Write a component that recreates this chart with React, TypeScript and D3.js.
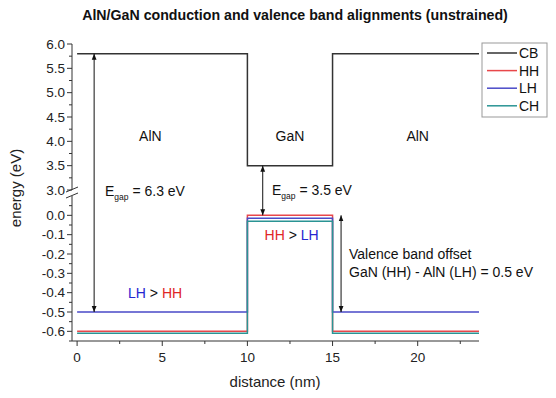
import React from 'react'
import * as d3 from 'd3'

// region boundaries along the growth direction (nm)
const boundaries = [0, 10, 15, 23.6]
const regionNames = ['AlN', 'GaN', 'AlN']
const regionLabelX = [4.3, 12.5, 20]

// band edges (eV) per region: AlN, GaN, AlN
const cbValues = [5.8, 3.5, 5.8]
const hhValues = [-0.6, 0.0, -0.6]
const lhValues = [-0.5, -0.015, -0.5]
const chValues = [-0.61, -0.03, -0.61]

const seriesNames = ['CB', 'HH', 'LH', 'CH']
const seriesColors = ['#333333', '#e8474a', '#4a4ac8', '#2a9494']

const xTicks = [0, 5, 10, 15, 20]
const xMinor = [2.5, 7.5, 12.5, 17.5, 22.5]
const yTopTicks = [3.0, 3.5, 4.0, 4.5, 5.0, 5.5, 6.0]
const yTopMinor = [3.25, 3.75, 4.25, 4.75, 5.25, 5.75]
const yBotTicks = [-0.6, -0.5, -0.4, -0.3, -0.2, -0.1, 0.0]
const yBotMinor = [-0.65, -0.55, -0.45, -0.35, -0.25, -0.15, -0.05, 0.05]

const font = '"Liberation Sans", Arial, sans-serif'

const x = d3.scaleLinear().domain([-0.3, 23.6]).range([72, 479])
const yTop = d3.scaleLinear().domain([3, 6]).range([190, 44])
const yBot = d3.scaleLinear().domain([-0.65, 0.1]).range([341, 196])

// CB lives on the upper segment, valence bands on the lower one
const stepLine = (vals: number[], y: d3.ScaleLinear<number, number>) => {
  const pts: [number, number][] = boundaries.map((b, i) => [b, vals[Math.min(i, vals.length - 1)]])
  return d3
    .line<[number, number]>()
    .x(d => x(d[0]))
    .y(d => y(d[1]))
    .curve(d3.curveStepAfter)(pts) as string
}

const fmt = (t: number) => (Math.abs(t) < 1e-9 ? 0 : t).toFixed(1)

const Egap = ({ px, py, value }: { px: number; py: number; value: string }) => (
  <text x={px} y={py} fontSize={14} fontFamily={font} fill="#111">
    E
    <tspan fontSize={8.5} dy={4}>gap</tspan>
    <tspan dy={-4}>{' = ' + value}</tspan>
  </text>
)

export default function App() {
  const paths = [
    stepLine(cbValues, yTop),
    stepLine(hhValues, yBot),
    stepLine(lhValues, yBot),
    stepLine(chValues, yBot)
  ]
  const axisColor = '#333'
  return (
    <svg width={556} height={398} style={{ position: 'absolute', left: 0, top: 0, background: '#fff' }}>
      <defs>
        <marker id="ah" viewBox="0 0 10 10" refX="10" refY="5" markerWidth="6" markerHeight="7" orient="auto-start-reverse" markerUnits="userSpaceOnUse">
          <path d="M0,1 L10,5 L0,9 z" fill="#111" />
        </marker>
      </defs>

      <text x={295} y={20} textAnchor="middle" fontSize={14.2} fontWeight="bold" fontFamily={font} fill="#111">
        AlN/GaN conduction and valence band alignments (unstrained)
      </text>

      {/* bands */}
      {paths.map((d, i) => (
        <path key={seriesNames[i]} d={d} fill="none" stroke={seriesColors[i]} strokeWidth={1.5} />
      ))}

      {/* x axis */}
      <g fontFamily={font} fontSize={13.5} fill="#222">
        <line x1={72} x2={479} y1={341} y2={341} stroke={axisColor} />
        {xTicks.map(t => (
          <g key={t}>
            <line x1={x(t)} x2={x(t)} y1={341} y2={346} stroke={axisColor} />
            <text x={x(t)} y={362} textAnchor="middle">{t}</text>
          </g>
        ))}
        {xMinor.map(t => (
          <line key={t} x1={x(t)} x2={x(t)} y1={341} y2={344} stroke={axisColor} />
        ))}
        <text x={275} y={387} textAnchor="middle" fontSize={15}>distance (nm)</text>
      </g>

      {/* broken y axis */}
      <g fontFamily={font} fontSize={13.5} fill="#222">
        <line x1={72} x2={72} y1={yTop(6)} y2={yTop(3)} stroke={axisColor} />
        <line x1={72} x2={72} y1={yBot(0.1)} y2={341} stroke={axisColor} />
        {yTopTicks.map(t => (
          <g key={t}>
            <line x1={67} x2={72} y1={yTop(t)} y2={yTop(t)} stroke={axisColor} />
            <text x={65} y={yTop(t) + 4.8} textAnchor="end">{fmt(t)}</text>
          </g>
        ))}
        {yTopMinor.map(t => (
          <line key={t} x1={69} x2={72} y1={yTop(t)} y2={yTop(t)} stroke={axisColor} />
        ))}
        {yBotTicks.map(t => (
          <g key={t}>
            <line x1={67} x2={72} y1={yBot(t)} y2={yBot(t)} stroke={axisColor} />
            <text x={65} y={yBot(t) + 4.8} textAnchor="end">{fmt(t)}</text>
          </g>
        ))}
        {yBotMinor.map(t => (
          <line key={t} x1={69} x2={72} y1={yBot(t)} y2={yBot(t)} stroke={axisColor} />
        ))}
        <line x1={66} x2={78} y1={yTop(3) + 2} y2={yTop(3) - 3} stroke={axisColor} />
        <line x1={66} x2={78} y1={yBot(0.1) + 2} y2={yBot(0.1) - 3} stroke={axisColor} />
        <text transform={`translate(21,${188}) rotate(-90)`} textAnchor="middle" fontSize={15}>energy (eV)</text>
      </g>

      {/* arrows */}
      <line x1={x(1)} x2={x(1)} y1={yTop(cbValues[0])} y2={yBot(lhValues[0])} stroke="#111" markerStart="url(#ah)" markerEnd="url(#ah)" />
      <line x1={x(10.9)} x2={x(10.9)} y1={yTop(cbValues[1])} y2={yBot(hhValues[1])} stroke="#111" markerStart="url(#ah)" markerEnd="url(#ah)" />
      <line x1={x(15.5)} x2={x(15.5)} y1={yBot(hhValues[1])} y2={yBot(lhValues[2])} stroke="#111" markerStart="url(#ah)" markerEnd="url(#ah)" />

      {/* region labels and notes */}
      <g fontFamily={font} fontSize={14} fill="#111">
        {regionNames.map((n, i) => (
          <text key={i} x={x(regionLabelX[i])} y={141} textAnchor="middle">{n}</text>
        ))}
        <text x={349} y={259}>Valence band offset</text>
        <text x={349} y={277}>GaN (HH) - AlN (LH) = 0.5 eV</text>
        <text x={x(12.6)} y={240} textAnchor="middle">
          <tspan fill="#e02626">HH</tspan>
          <tspan fill="#111">{' > '}</tspan>
          <tspan fill="#2626d0">LH</tspan>
        </text>
        <text x={128} y={298}>
          <tspan fill="#2626d0">LH</tspan>
          <tspan fill="#111">{' > '}</tspan>
          <tspan fill="#e02626">HH</tspan>
        </text>
      </g>
      <Egap px={105} py={196} value="6.3 eV" />
      <Egap px={272} py={195} value="3.5 eV" />

      {/* legend */}
      <g fontFamily={font} fontSize={14} fill="#111">
        <rect x={482} y={43} width={65} height={74} fill="#fff" stroke="#999" />
        {seriesNames.map((n, i) => (
          <g key={n} transform={`translate(487,${53 + i * 17.6})`}>
            <line x1={0} x2={30} y1={0} y2={0} stroke={seriesColors[i]} strokeWidth={1.5} />
            <text x={32} y={5}>{n}</text>
          </g>
        ))}
      </g>
    </svg>
  )
}
